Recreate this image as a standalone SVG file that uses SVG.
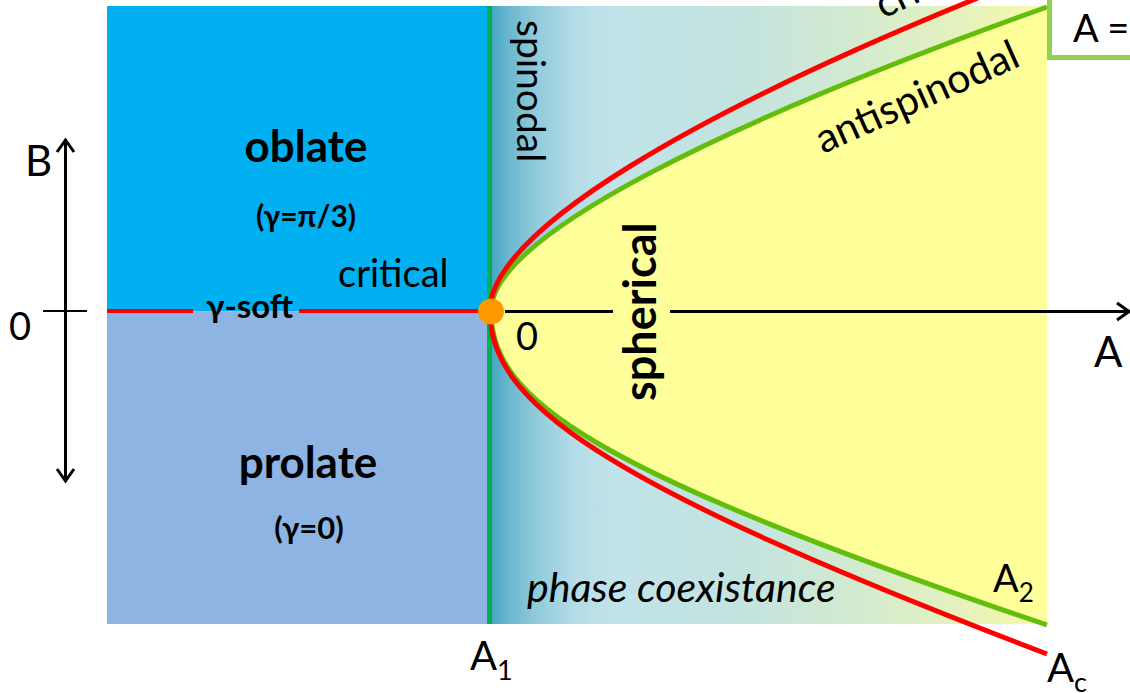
<svg xmlns="http://www.w3.org/2000/svg" width="1130" height="693" viewBox="0 0 1130 693">
<defs>
<linearGradient id="coex" x1="490" y1="0" x2="1047" y2="0" gradientUnits="userSpaceOnUse">
<stop offset="0" stop-color="#45A3C2"/>
<stop offset="0.03" stop-color="#66B5CE"/>
<stop offset="0.08" stop-color="#8FCADA"/>
<stop offset="0.15" stop-color="#B3DCE6"/>
<stop offset="0.22" stop-color="#C1E3EA"/>
<stop offset="0.45" stop-color="#C3E3DF"/>
<stop offset="0.65" stop-color="#D2EAD0"/>
<stop offset="0.82" stop-color="#E3F1C1"/>
<stop offset="1" stop-color="#F8F9A8"/>
</linearGradient>
<style>
text{font-family:Lato,'Liberation Sans',sans-serif;fill:#000}
.b{font-weight:bold}
.red{fill:none;stroke:#FF0000;stroke-width:5}
.grn{fill:none;stroke:#63BE0C;stroke-width:5}
.ax{fill:none;stroke:#000;stroke-width:3}
</style>
</defs>
<rect x="0" y="0" width="1130" height="693" fill="#FFFFFF"/>
<g id="oblate-region"><rect x="107" y="6" width="383" height="305.5" fill="#00B0F0"/></g>
<g id="prolate-region"><rect x="107" y="311.5" width="383" height="312.5" fill="#8EB4E3"/></g>
<g id="coexistence-region"><rect x="490" y="6" width="557" height="618" fill="url(#coex)"/></g>
<g id="spherical-region"><path d="M491,311 C491,235 730,120 1047,7 L1047,625 C590,470 491,400 491,311Z" fill="#FFFF99"/></g>
<g id="connectors">
<line x1="489.5" y1="6" x2="489.5" y2="624" stroke="#00B050" stroke-width="5"/>
<path class="grn" d="M491,311 C491,235 730,120 1047,7"/>
<path class="grn" d="M491,311 C491,400 590,470 1047,625"/>
<path class="red" d="M490,311 C490,230 700,110 990,-7"/>
<path class="red" d="M490,311 C490,400 590,480 1047,654"/>
<path d="M107,311 H193 M299,311 H490" fill="none" stroke="#FF0000" stroke-width="4"/>
<path class="ax" d="M505,311.5 H613 M670,311.5 H1128"/>
<path class="ax" d="M1117,303 L1129,311.5 L1117,320"/>
<path class="ax" d="M65.5,141 V480"/>
<path class="ax" d="M57,152 L65.5,140 L74,152 M57,469 L65.5,481 L74,469"/>
<path d="M43,311 H87" fill="none" stroke="#000" stroke-width="2"/>
</g>
<g id="critical-point"><circle cx="491" cy="311.5" r="13" fill="#FF9900"/></g>
<g id="box"><rect x="1049.5" y="-10" width="100" height="67.5" fill="#FFFFFF" stroke="#92D050" stroke-width="5"/>
<text x="1073" y="42" font-size="38">A =</text></g>
<g id="labels">
<text class="b" x="306" y="162" font-size="44" text-anchor="middle">oblate</text>
<text class="b" x="306" y="227" font-size="30" text-anchor="middle">(γ=π/3)</text>
<text x="338" y="287" font-size="38">critical</text>
<text class="b" x="206" y="318" font-size="33">γ-soft</text>
<text class="b" x="308" y="478" font-size="44" text-anchor="middle">prolate</text>
<text class="b" x="309" y="539" font-size="31" text-anchor="middle">(γ=0)</text>
<text transform="translate(517,20) rotate(90)" font-size="39">spinodal</text>
<text class="b" transform="translate(656,401) rotate(-90)" font-size="45">spherical</text>
<text transform="translate(823,154) rotate(-24)" font-size="41">antispinodal</text>
<text transform="translate(883,19) rotate(-25)" font-size="40">critical</text>
<text x="527" y="602" font-size="41" font-style="italic">phase coexistance</text>
<text x="993" y="592" font-size="38">A<tspan font-size="26" dy="10">2</tspan></text>
<text x="470" y="670" font-size="40">A<tspan font-size="27" dy="10">1</tspan></text>
<text x="1047" y="682" font-size="40">A<tspan font-size="27" dy="10">c</tspan></text>
<text x="25" y="176" font-size="42">B</text>
<text x="9" y="340" font-size="38">0</text>
<text x="516" y="350" font-size="38">0</text>
<text x="1094" y="367" font-size="42">A</text>
</g>
</svg>
